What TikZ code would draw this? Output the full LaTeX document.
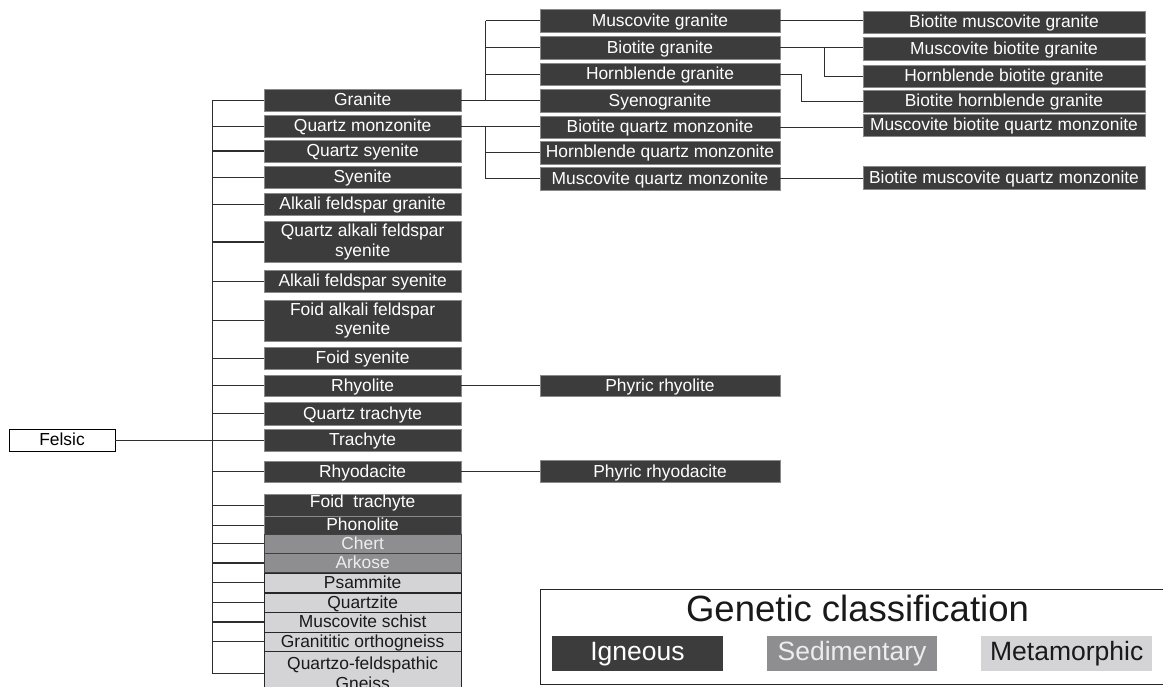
\documentclass[tikz,border=0pt]{standalone}
\usepackage{fontspec}
\setmainfont{Liberation Sans}
\definecolor{igfill}{HTML}{3C3C3C}
\definecolor{igedge}{HTML}{8A8A8A}
\definecolor{sedfill}{HTML}{8E8E90}
\definecolor{sedtext}{HTML}{EDEDED}
\definecolor{metfill}{HTML}{D4D4D6}
\definecolor{connc}{HTML}{2E2E2E}
\tikzset{
  box/.style={rectangle, inner sep=0pt, outer sep=0pt, line width=0.8pt,
    font=\fontsize{17.4}{19.4}\selectfont},
  one/.style={text height=13pt, text depth=2pt},
  ign/.style={box, fill=igfill, draw=igedge, text=white},
  sed/.style={box, fill=sedfill, draw=black!75, text=sedtext},
  met/.style={box, fill=metfill, draw=black!85, text=black!90},
  c1/.style={minimum width=196.7pt},
  c2/.style={minimum width=240pt},
  c3/.style={minimum width=282pt},
  conn/.style={draw=connc, line width=1.2pt},
  swatch/.style={rectangle, inner sep=0pt, minimum width=170.5pt, minimum height=35pt,
    text height=19pt, text depth=6pt, font=\fontsize{26.5}{30}\selectfont},
}
\begin{document}
\begin{tikzpicture}[x=1pt, y=-1pt]
\path[use as bounding box, clip] (0,0) rectangle (1163,687);
\fill[white] (0,0) rectangle (1163,687);

% root
\node[box, one, fill=white, draw=black, line width=1pt, minimum width=106pt, minimum height=21.7pt]
  (felsic) at (62,440.2) {Felsic};

% first level
\node[ign, one, c1, minimum height=22.5pt] (granite) at (362.65,100.3) {Granite};
\node[ign, one, c1, minimum height=21.6pt] (qmonz) at (362.65,126.5) {Quartz monzonite};
\node[ign, one, c1, minimum height=22pt] (qsyen) at (362.65,151) {Quartz syenite};
\node[ign, one, c1, minimum height=21.6pt] (syen) at (362.65,177.5) {Syenite};
\node[ign, one, c1, minimum height=21.7pt] (afgran) at (362.65,204.2) {Alkali feldspar granite};
\node[ign, c1, minimum height=40.6pt, align=center] (qafsyen) at (362.65,242) {Quartz alkali feldspar\\syenite};
\node[ign, one, c1, minimum height=22.3pt] (afsyen) at (362.65,281.2) {Alkali feldspar syenite};
\node[ign, c1, minimum height=41.7pt, align=center] (fafsyen) at (362.65,320.8) {Foid alkali feldspar\\syenite};
\node[ign, one, c1, minimum height=21.7pt] (fsyen) at (362.65,358.2) {Foid syenite};
\node[ign, one, c1, minimum height=21.7pt] (rhyol) at (362.65,385.8) {Rhyolite};
\node[ign, one, c1, minimum height=22.3pt] (qtrach) at (362.65,413.8) {Quartz trachyte};
\node[ign, one, c1, minimum height=21.7pt] (trach) at (362.65,440.2) {Trachyte};
\node[ign, one, c1, minimum height=21.7pt] (rhyod) at (362.65,471.8) {Rhyodacite};
\node[ign, c1, minimum height=21.7pt, text height=13pt, text depth=10pt] (ftrach) at (362.65,505.8) {Foid~ trachyte};
\node[ign, one, c1, minimum height=17.3pt] (phono) at (362.65,525.3) {Phonolite};
\node[sed, one, c1, minimum height=19.3pt] (chert) at (362.65,543.7) {Chert};
\node[sed, one, c1, minimum height=19.4pt] (arkose) at (362.65,563) {Arkose};
\node[met, one, c1, minimum height=19pt] (psamm) at (362.65,582.8) {Psammite};
\node[met, one, c1, minimum height=18.7pt] (qzite) at (362.65,602.7) {Quartzite};
\node[met, one, c1, minimum height=20pt] (mschist) at (362.65,622) {Muscovite schist};
\node[met, one, c1, minimum height=19.7pt] (gortho) at (362.65,641.8) {Granititic orthogneiss};
\node[met, c1, minimum height=43.3pt, align=center] (qfgn) at (362.65,673.3) {Quartzo-feldspathic\\Gneiss};

% second level
\node[ign, one, c2, minimum height=23.3pt] (muscgran) at (660,20.9) {Muscovite granite};
\node[ign, one, c2, minimum height=22.3pt] (biotgran) at (660,47.8) {Biotite granite};
\node[ign, one, c2, minimum height=22.4pt] (horngran) at (660,74.5) {Hornblende granite};
\node[ign, one, c2, minimum height=23pt] (syenogran) at (660,100.8) {Syenogranite};
\node[ign, one, c2, minimum height=22.3pt] (bqm) at (660,127.2) {Biotite quartz monzonite};
\node[ign, one, c2, minimum height=23pt] (hqm) at (660,152.5) {Hornblende quartz monzonite};
\node[ign, one, c2, minimum height=22.7pt] (mqm) at (660,178.7) {Muscovite quartz monzonite};
\node[ign, one, c2, minimum height=21.7pt] (prhyol) at (660,385.8) {Phyric rhyolite};
\node[ign, one, c2, minimum height=22pt] (prhyod) at (660,471.7) {Phyric rhyodacite};

% third level
\node[ign, one, c3, minimum height=22.3pt] (bmg) at (1004,22.2) {Biotite muscovite granite};
\node[ign, one, c3, minimum height=23pt] (mbg) at (1004,49.2) {Muscovite biotite granite};
\node[ign, one, c3, minimum height=22.3pt] (hbg) at (1004,76.2) {Hornblende biotite granite};
\node[ign, one, c3, minimum height=22.3pt] (bhg) at (1004,101.2) {Biotite hornblende granite};
\node[ign, one, c3, minimum height=22.4pt] (mbqm) at (1004,125.5) {Muscovite biotite quartz monzonite};
\node[ign, one, c3, minimum height=22.3pt] (bmqm) at (1004,177.8) {Biotite muscovite quartz monzonite};

% bus lines
\coordinate (trunk) at (212.3,0);
\coordinate (jct) at (485.7,0);
\coordinate (elbA) at (801.7,0);
\coordinate (elbB) at (824.3,0);

% root to first level
\draw[conn] (felsic.east) -- (trunk |- felsic.east);
\draw[conn] (trunk |- granite.west) -- (trunk |- qfgn.west);
\foreach \n in {granite,qmonz,qsyen,syen,afgran,qafsyen,afsyen,fafsyen,fsyen,rhyol,qtrach,trach,rhyod,ftrach,phono,chert,arkose,psamm,qzite,mschist,gortho,qfgn}
  \draw[conn] (trunk |- \n.west) -- (\n.west);

% granite group
\draw[conn] (granite.east) -- (granite.east -| syenogran.west);
\draw[conn] (jct |- muscgran.west) -- (jct |- granite.east);
\foreach \n in {muscgran,biotgran,horngran}
  \draw[conn] (jct |- \n.west) -- (\n.west);

% quartz monzonite group
\draw[conn] (qmonz.east) -- (qmonz.east -| bqm.west);
\draw[conn] (jct |- qmonz.east) -- (jct |- mqm.west);
\foreach \n in {hqm,mqm}
  \draw[conn] (jct |- \n.west) -- (\n.west);

% third level links
\draw[conn] (muscgran.east) -- (muscgran.east -| bmg.west);
\draw[conn] (biotgran.east) -- (biotgran.east -| mbg.west);
\draw[conn] (elbB |- biotgran.east) -- (elbB |- hbg.west) -- (hbg.west);
\draw[conn] (horngran.east) -- (elbA |- horngran.east) -- (elbA |- bhg.west) -- (bhg.west);
\draw[conn] (bqm.east) -- (bqm.east -| mbqm.west);
\draw[conn] (mqm.east) -- (mqm.east -| bmqm.west);

% volcanic phyric variants
\draw[conn] (rhyol.east) -- (rhyol.east -| prhyol.west);
\draw[conn] (rhyod.east) -- (rhyod.east -| prhyod.west);

% legend
\node[rectangle, draw=black!85, line width=1.1pt, fill=white, minimum width=700pt,
  minimum height=95pt, anchor=north west] (legend) at (540,589) {};
\node[anchor=base, font=\fontsize{36.5}{40}\selectfont, text=black!90] (legtitle) at (857.5,621.7) {Genetic classification};
\node[swatch, fill=igfill, text=white] (legign) at (637.5,653.5) {Igneous};
\node[swatch, fill=sedfill, text=sedtext] (legsed) at (852,653.5) {Sedimentary};
\node[swatch, fill=metfill, text=black!90] (legmet) at (1066.7,653.5) {Metamorphic};
\end{tikzpicture}
\end{document}
